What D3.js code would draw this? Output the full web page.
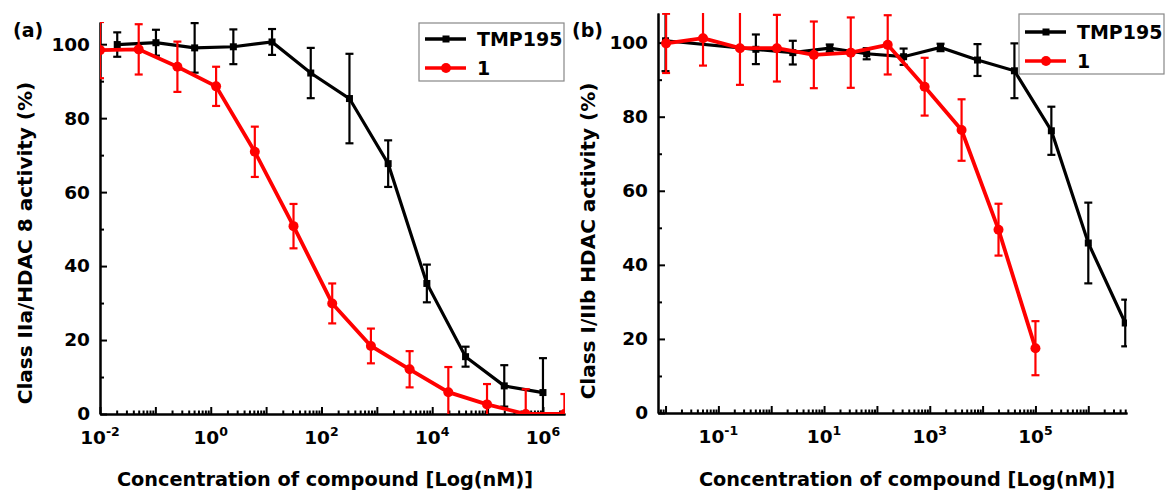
<!DOCTYPE html>
<html>
<head>
<meta charset="utf-8">
<script src="https://cdn.jsdelivr.net/npm/d3@7"></script>
<style>
  body { margin: 0; background: #fff; }
  svg { font-family: "DejaVu Sans", sans-serif; font-weight: bold; }
  .axis path, .axis line { stroke: #000; stroke-width: 2; }
  .axis text { font-size: 18.5px; font-weight: bold; fill: #000; font-family: "DejaVu Sans", sans-serif; }
</style>
</head>
<body>
<div id="chart"></div>
<script>
// panel (a): Class IIa / HDAC 8
const concTmpA = [0.02048, 0.1024, 0.512, 2.56, 12.8, 64, 320, 1600, 8000, 40000, 200000, 1000000];
const actTmpA = [99.9, 100.4, 99.0, 99.3, 100.6, 92.2, 85.3, 67.7, 35.3, 15.5, 7.6, 5.8];
const errTmpA = [3.3, 3.5, 6.7, 4.7, 3.5, 6.8, 12.1, 6.3, 5.1, 2.7, 5.6, 9.3];

const concCmpA = [0.01, 0.05, 0.25, 1.25, 6.25, 31.25, 156.25, 781.25, 3906.25, 19531.25, 97656.25, 488281.25, 2441406.25];
const actCmpA = [98.4, 98.6, 93.9, 88.6, 70.9, 50.8, 29.9, 18.4, 12.1, 5.9, 2.6, 0, 0];
const errCmpA = [7.6, 6.8, 6.8, 5.3, 6.8, 6.0, 5.4, 4.7, 4.9, 6.8, 5.5, 6.7, 5.4];

// panel (b): Class I / IIb
const concTmpB = [0.01, 0.512, 2.56, 12.8, 64, 320, 1600, 8000, 40000, 200000, 1000000, 5000000];
const actTmpB = [100.5, 98.2, 97.3, 98.5, 97.0, 96.2, 98.7, 95.3, 92.4, 76.2, 45.9, 24.3];
const errTmpB = [8.2, 4.0, 3.2, 1.0, 1.5, 2.2, 1.0, 4.3, 7.4, 6.5, 10.9, 6.3];

const concCmpB = [0.01024, 0.0512, 0.256, 1.28, 6.4, 32, 160, 800, 4000, 20000, 100000];
const actCmpB = [99.8, 101.2, 98.5, 98.5, 96.7, 97.3, 99.4, 88.1, 76.4, 49.5, 17.5];
const errCmpB = [8.0, 7.4, 9.9, 9.0, 9.0, 9.5, 8.0, 7.8, 8.3, 7.0, 7.3];

const seriesNames = ["TMP195", "1"];
const yMajor = [0, 20, 40, 60, 80, 100];
const yMinor = [10, 30, 50, 70, 90];
const xLabelsA = [-2, 0, 2, 4, 6];
const xLabelsB = [-1, 1, 3, 5];

const width = 1165, height = 495;
const svg = d3.select("#chart").append("svg")
  .attr("width", width)
  .attr("height", height);

function logTicks(domain) {
  const lo = Math.floor(Math.log10(domain[0])), hi = Math.ceil(Math.log10(domain[1]));
  const major = [], minor = [];
  for (let d = lo; d <= hi; d++) {
    for (let k = 1; k < 10; k++) {
      const v = k * Math.pow(10, d);
      if (v < domain[0] * 0.999 || v > domain[1] * 1.001) continue;
      (k === 1 ? major : minor).push(v);
    }
  }
  return { major, minor };
}

function drawPanel(p) {
  const x = d3.scaleLog().domain(p.xDomain).range(p.xRange);
  const y = d3.scaleLinear().domain(p.yDomain).range(p.yRange);
  const g = svg.append("g");

  const clipId = "clip-" + p.id;
  svg.append("clipPath").attr("id", clipId)
    .append("rect")
    .attr("x", p.xRange[0]).attr("y", p.yRange[1])
    .attr("width", p.xRange[1] - p.xRange[0])
    .attr("height", p.yRange[0] - p.yRange[1]);

  // axes
  const t = logTicks(p.xDomain);
  g.append("g").attr("class", "axis")
    .attr("transform", `translate(0,${p.yRange[0]})`)
    .call(d3.axisBottom(x).tickValues(t.minor).tickSizeInner(-3.5).tickSizeOuter(0).tickFormat(""));
  g.append("g").attr("class", "axis")
    .attr("transform", `translate(0,${p.yRange[0]})`)
    .call(d3.axisBottom(x).tickValues(t.major).tickSizeInner(-7).tickSizeOuter(0).tickFormat(""));

  g.append("g").attr("class", "axis")
    .attr("transform", `translate(${p.xRange[0]},0)`)
    .call(d3.axisLeft(y).tickValues(yMinor).tickSizeInner(-4).tickSizeOuter(0).tickFormat(""));
  g.append("g").attr("class", "axis")
    .attr("transform", `translate(${p.xRange[0]},0)`)
    .call(d3.axisLeft(y).tickValues(yMajor).tickSizeInner(-7).tickSizeOuter(0).tickPadding(10).tickFormat(d3.format("d")));

  // x tick labels 10^n
  const lab = g.append("g").selectAll("text")
    .data(p.xLabels)
    .join("text")
    .attr("x", d => x(Math.pow(10, d)))
    .attr("y", p.yRange[0] + 30)
    .attr("text-anchor", "middle")
    .style("font-size", "18.5px");
  lab.append("tspan").text("10");
  lab.append("tspan").attr("dy", -8).style("font-size", "12.5px").text(d => d);

  // titles
  svg.append("text")
    .attr("x", p.xTitleX).attr("y", 486)
    .attr("text-anchor", "middle")
    .style("font-size", "19.3px")
    .text("Concentration of compound [Log(nM)]");
  svg.append("text")
    .attr("transform", `translate(${p.yTitleX},${p.yTitleY}) rotate(-90)`)
    .attr("text-anchor", "middle")
    .attr("dominant-baseline", "central")
    .style("font-size", "20px")
    .text(p.yTitle);
  svg.append("text")
    .attr("x", p.tagX).attr("y", 37)
    .style("font-size", "19px")
    .text(p.tag);

  // data: TMP195 underneath, compound 1 on top
  const plot = g.append("g").attr("clip-path", `url(#${clipId})`);
  const series = [
    { conc: p.tmp[0], act: p.tmp[1], err: p.tmp[2], color: "#000000", shape: "square", lw: 3.2 },
    { conc: p.cmp[0], act: p.cmp[1], err: p.cmp[2], color: "#ff0000", shape: "circle", lw: 3.8 }
  ];

  series.forEach(s => {
    const pts = s.conc.map((c, i) => ({ c, v: s.act[i], e: s.err[i] }));
    const sg = plot.append("g");
    const eb = sg.append("g").attr("stroke", s.color).attr("stroke-width", 2.2);
    eb.selectAll(".v").data(pts).join("line")
      .attr("x1", d => x(d.c)).attr("x2", d => x(d.c))
      .attr("y1", d => y(d.v - d.e)).attr("y2", d => y(d.v + d.e));
    eb.selectAll(".t").data(pts).join("line")
      .attr("x1", d => x(d.c) - 4).attr("x2", d => x(d.c) + 4)
      .attr("y1", d => y(d.v + d.e)).attr("y2", d => y(d.v + d.e));
    eb.selectAll(".b").data(pts).join("line")
      .attr("x1", d => x(d.c) - 4).attr("x2", d => x(d.c) + 4)
      .attr("y1", d => y(d.v - d.e)).attr("y2", d => y(d.v - d.e));

    sg.append("path")
      .datum(pts)
      .attr("fill", "none")
      .attr("stroke", s.color)
      .attr("stroke-width", s.lw)
      .attr("d", d3.line().x(d => x(d.c)).y(d => y(d.v)));

    if (s.shape === "circle") {
      sg.selectAll("circle").data(pts).join("circle")
        .attr("cx", d => x(d.c)).attr("cy", d => y(d.v)).attr("r", 5)
        .attr("fill", s.color);
    } else {
      sg.selectAll("rect").data(pts).join("rect")
        .attr("x", d => x(d.c) - 3.5).attr("y", d => y(d.v) - 3.5)
        .attr("width", 7).attr("height", 7)
        .attr("fill", s.color);
    }
  });

  // legend
  const lg = svg.append("g").attr("transform", `translate(${p.legend[0]},${p.legend[1]})`);
  lg.append("rect")
    .attr("width", p.legend[2]).attr("height", p.legend[3])
    .attr("fill", "#fff").attr("stroke", "#888").attr("stroke-width", 1.2);
  const colors = ["#000000", "#ff0000"];
  seriesNames.forEach((name, i) => {
    const cy = p.legendRows[i];
    lg.append("line")
      .attr("x1", 6).attr("x2", 47).attr("y1", cy).attr("y2", cy)
      .attr("stroke", colors[i]).attr("stroke-width", 3.5);
    if (i === 0) {
      lg.append("rect").attr("x", 23.5).attr("y", cy - 3.5).attr("width", 7).attr("height", 7).attr("fill", colors[i]);
    } else {
      lg.append("circle").attr("cx", 27).attr("cy", cy).attr("r", 5).attr("fill", colors[i]);
    }
    lg.append("text")
      .attr("x", 58).attr("y", cy)
      .attr("dominant-baseline", "central")
      .style("font-size", "19px")
      .text(name);
  });
}

drawPanel({
  id: "a",
  xDomain: [0.01, 2.5e6], xRange: [100, 565],
  yDomain: [0, 106], yRange: [414, 22],
  xLabels: xLabelsA,
  tmp: [concTmpA, actTmpA, errTmpA],
  cmp: [concCmpA, actCmpA, errCmpA],
  xTitleX: 325, yTitleX: 25, yTitleY: 243,
  yTitle: "Class IIa/HDAC 8 activity (%)",
  tag: "(a)", tagX: 13,
  legend: [419, 23, 145, 58], legendRows: [16, 45]
});

drawPanel({
  id: "b",
  xDomain: [0.0072, 5.4e6], xRange: [658, 1127],
  yDomain: [0, 108], yRange: [413, 13],
  xLabels: xLabelsB,
  tmp: [concTmpB, actTmpB, errTmpB],
  cmp: [concCmpB, actCmpB, errCmpB],
  xTitleX: 907, yTitleX: 588, yTitleY: 241,
  yTitle: "Class I/IIb HDAC activity (%)",
  tag: "(b)", tagX: 572,
  legend: [1019, 14, 145, 60], legendRows: [18, 47]
});
</script>
</body>
</html>
